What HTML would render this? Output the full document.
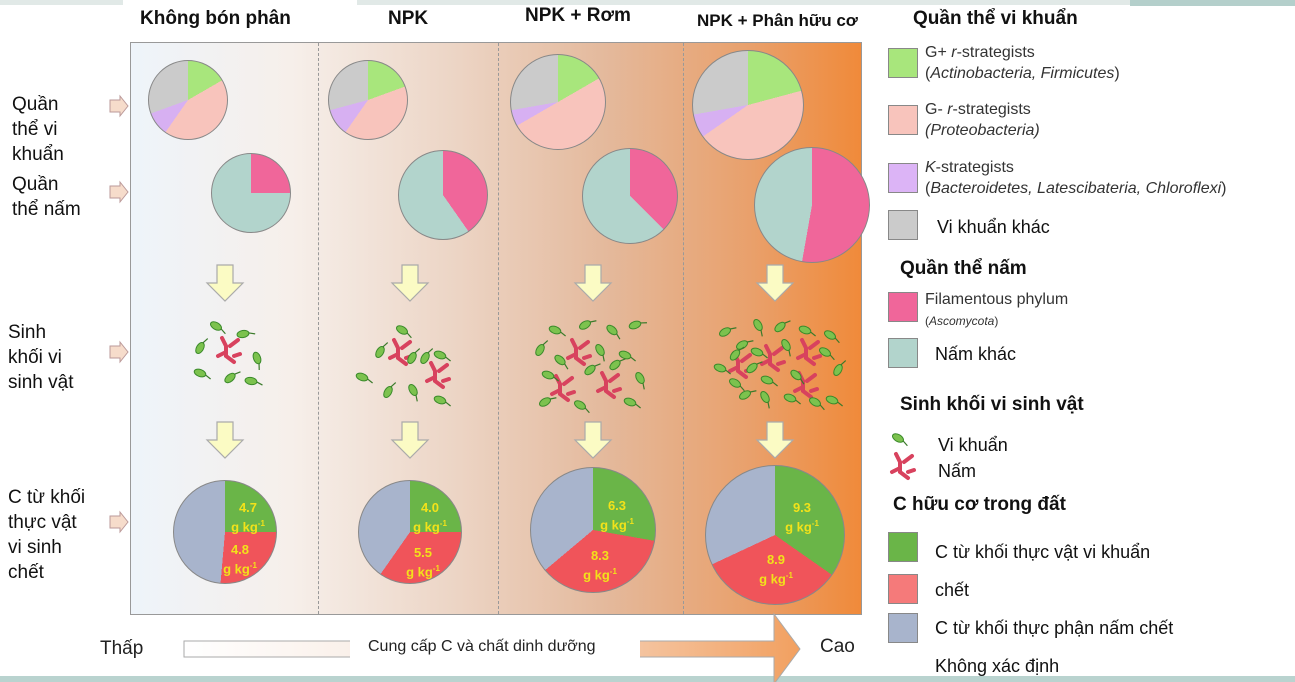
<!DOCTYPE html>
<html><head><meta charset="utf-8"><style>
body{margin:0;width:1295px;height:682px;position:relative;background:#fff;font-family:"Liberation Sans",sans-serif;overflow:hidden}
.a{position:absolute}
.pie{position:absolute;border-radius:50%;border:1px solid #888;box-sizing:border-box}
.t{position:absolute;font-size:19px;color:#111;line-height:25px}
.h{position:absolute;font-weight:bold;font-size:19px;color:#111}
.sw{position:absolute;width:30px;height:30px;border:1px solid #888;box-sizing:border-box;left:888px}
.lg{position:absolute;left:925px;font-size:16px;color:#333;line-height:21px}
.pl{position:absolute;color:#f2e21a;font-weight:bold;font-size:13px;text-align:center;line-height:16px}
</style></head><body>
<div class="a" style="left:0;top:0;width:1295px;height:5px;background:#e1e9e7"></div>
<div class="a" style="left:123px;top:0;width:234px;height:6px;background:#fff"></div>
<div class="a" style="left:1130px;top:0;width:165px;height:6px;background:#b4cfcb"></div>
<div class="a" style="left:0;top:676px;width:1295px;height:6px;background:#b9d3cf"></div>

<div class="a" style="left:130px;top:42px;width:732px;height:573px;border:1px solid #999;box-sizing:border-box;background:linear-gradient(90deg,#eef4fa 0%,#f6efea 22%,#ecd4c4 45%,#e4b99c 65%,#e9a06b 85%,#f08a3a 100%)"></div>
<div class="a" style="left:318px;top:43px;height:571px;border-left:1px dashed #999"></div>
<div class="a" style="left:498px;top:43px;height:571px;border-left:1px dashed #999"></div>
<div class="a" style="left:683px;top:43px;height:571px;border-left:1px dashed #999"></div>

<div class="h" style="left:140px;top:8px">Không bón phân</div>
<div class="h" style="left:388px;top:8px">NPK</div>
<div class="h" style="left:525px;top:5px">NPK + Rơm</div>
<div class="h" style="left:697px;top:11px;font-size:17px">NPK + Phân hữu cơ</div>

<div class="t" style="left:12px;top:92px">Quần<br>thể vi<br>khuẩn</div>
<div class="t" style="left:12px;top:172px">Quần<br>thể nấm</div>
<div class="t" style="left:8px;top:320px">Sinh<br>khối vi<br>sinh vật</div>
<div class="t" style="left:8px;top:485px">C từ khối<br>thực vật<br>vi sinh<br>chết</div>

<svg class="a" style="left:0;top:0" width="1295" height="682">
<defs>
<g id="la"><path d="M0,-6 h10 v-4 l8,10 l-8,10 v-4 h-10z" fill="#f6dccb" stroke="#b99" stroke-width="1"/></g>
<g id="da"><path d="M-8,0 h16 v18 h10 l-18,18 l-18,-18 h10z" fill="#fbfbc4" stroke="#aaa" stroke-width="1.2"/></g>
<g id="b"><ellipse cx="0" cy="0" rx="6" ry="3.5" fill="#7cc24e" stroke="#3a8a2a" stroke-width="1"/><path d="M6,0 l6,2" stroke="#3a7a2a" stroke-width="1.2"/></g>
<g id="f" fill="none" stroke="#d8425e" stroke-width="4" stroke-linecap="round"><path d="M-6,-12 l4,8 l0,10 l8,6 M-2,2 l-8,4 M2,-4 l8,-6 M6,6 l6,-2"/></g>
</defs>
<use href="#la" x="110" y="106"/><use href="#la" x="110" y="192"/><use href="#la" x="110" y="352"/><use href="#la" x="110" y="522"/>
<use href="#da" x="225" y="265"/><use href="#da" x="410" y="265"/><use href="#da" x="593" y="265"/><use href="#da" x="775" y="265"/>
<use href="#da" x="225" y="422"/><use href="#da" x="410" y="422"/><use href="#da" x="593" y="422"/><use href="#da" x="775" y="422"/>
<!-- col1 -->
<use href="#f" x="228" y="350"/>
<use href="#b" transform="translate(216,326) rotate(30)"/><use href="#b" transform="translate(243,334) rotate(-10)"/><use href="#b" transform="translate(200,348) rotate(-60)"/><use href="#b" transform="translate(257,358) rotate(70)"/><use href="#b" transform="translate(200,373) rotate(20)"/><use href="#b" transform="translate(230,378) rotate(-40)"/><use href="#b" transform="translate(251,381) rotate(10)"/>
<!-- col2 -->
<use href="#f" x="400" y="352"/><use href="#f" x="437" y="375"/>
<use href="#b" transform="translate(402,330) rotate(30)"/><use href="#b" transform="translate(380,352) rotate(-60)"/><use href="#b" transform="translate(440,355) rotate(20)"/><use href="#b" transform="translate(362,377) rotate(20)"/><use href="#b" transform="translate(388,392) rotate(-60)"/><use href="#b" transform="translate(413,390) rotate(60)"/><use href="#b" transform="translate(440,400) rotate(20)"/><use href="#b" transform="translate(425,358) rotate(-60)"/><use href="#b" transform="translate(412,358) rotate(-60)"/>
<!-- col3 -->
<use href="#f" x="578" y="352"/><use href="#f" x="608" y="385"/><use href="#f" x="562" y="388"/>
<use href="#b" transform="translate(555,330) rotate(20)"/><use href="#b" transform="translate(585,325) rotate(-30)"/><use href="#b" transform="translate(612,330) rotate(40)"/><use href="#b" transform="translate(635,325) rotate(-20)"/><use href="#b" transform="translate(540,350) rotate(-60)"/><use href="#b" transform="translate(600,350) rotate(60)"/><use href="#b" transform="translate(625,355) rotate(20)"/><use href="#b" transform="translate(548,375) rotate(20)"/><use href="#b" transform="translate(590,370) rotate(-40)"/><use href="#b" transform="translate(640,378) rotate(60)"/><use href="#b" transform="translate(545,402) rotate(-30)"/><use href="#b" transform="translate(580,405) rotate(30)"/><use href="#b" transform="translate(630,402) rotate(20)"/><use href="#b" transform="translate(560,360) rotate(40)"/><use href="#b" transform="translate(615,365) rotate(-40)"/>
<!-- col4 -->
<use href="#f" x="740" y="365"/><use href="#f" x="772" y="358"/><use href="#f" x="808" y="352"/><use href="#f" x="805" y="385"/>
<use href="#b" transform="translate(725,332) rotate(-30)"/><use href="#b" transform="translate(758,325) rotate(60)"/><use href="#b" transform="translate(780,327) rotate(-40)"/><use href="#b" transform="translate(805,330) rotate(20)"/><use href="#b" transform="translate(830,335) rotate(30)"/><use href="#b" transform="translate(742,345) rotate(-30)"/><use href="#b" transform="translate(757,352) rotate(20)"/><use href="#b" transform="translate(786,345) rotate(60)"/><use href="#b" transform="translate(825,352) rotate(30)"/><use href="#b" transform="translate(720,368) rotate(20)"/><use href="#b" transform="translate(752,368) rotate(-40)"/><use href="#b" transform="translate(838,370) rotate(-60)"/><use href="#b" transform="translate(735,383) rotate(30)"/><use href="#b" transform="translate(767,380) rotate(20)"/><use href="#b" transform="translate(796,375) rotate(40)"/><use href="#b" transform="translate(745,395) rotate(-30)"/><use href="#b" transform="translate(765,397) rotate(60)"/><use href="#b" transform="translate(790,398) rotate(20)"/><use href="#b" transform="translate(815,402) rotate(30)"/><use href="#b" transform="translate(832,400) rotate(20)"/><use href="#b" transform="translate(735,355) rotate(-50)"/>
<!-- legend microbes -->
<use href="#b" transform="translate(898,438) rotate(30)"/>
<use href="#f" x="902" y="466"/>
<!-- bottom arrow -->
<defs><linearGradient id="g" x1="0" x2="1"><stop offset="0" stop-color="#fff"/><stop offset="0.5" stop-color="#f6e4d8"/><stop offset="1" stop-color="#f2a060"/></linearGradient></defs>
<path d="M184,641 h590 v-27 l26,35 l-26,35 v-27 h-590z" fill="url(#g)" stroke="#aaa" stroke-width="1"/>
</svg>
<div class="a" style="left:350px;top:640px;width:290px;height:18px;background:#fff"></div>
<div class="a" style="left:368px;top:638px;font-size:16px;color:#222">Cung cấp C và chất dinh dưỡng</div>
<div class="a" style="left:100px;top:638px;font-size:19px;color:#222">Thấp</div>
<div class="a" style="left:820px;top:636px;font-size:19px;color:#222">Cao</div>

<!-- bacteria pies -->
<div class="pie" style="left:148px;top:60px;width:80px;height:80px;background:conic-gradient(#a8e67c 0 60deg,#f8c4bc 60deg 215deg,#d7b0f2 215deg 250deg,#cbcbcb 250deg)"></div>
<div class="pie" style="left:328px;top:60px;width:80px;height:80px;background:conic-gradient(#a8e67c 0 70deg,#f8c4bc 70deg 215deg,#d7b0f2 215deg 255deg,#cbcbcb 255deg)"></div>
<div class="pie" style="left:510px;top:54px;width:96px;height:96px;background:conic-gradient(#a8e67c 0 60deg,#f8c4bc 60deg 240deg,#d7b0f2 240deg 260deg,#cbcbcb 260deg)"></div>
<div class="pie" style="left:692px;top:50px;width:112px;height:110px;background:conic-gradient(#a8e67c 0 75deg,#f8c4bc 75deg 235deg,#d7b0f2 235deg 260deg,#cbcbcb 260deg)"></div>
<!-- fungi pies -->
<div class="pie" style="left:211px;top:153px;width:80px;height:80px;background:conic-gradient(#f0669a 0 90deg,#b2d4cc 90deg)"></div>
<div class="pie" style="left:398px;top:150px;width:90px;height:90px;background:conic-gradient(#f0669a 0 145deg,#b2d4cc 145deg)"></div>
<div class="pie" style="left:582px;top:148px;width:96px;height:96px;background:conic-gradient(#f0669a 0 135deg,#b2d4cc 135deg)"></div>
<div class="pie" style="left:754px;top:147px;width:116px;height:116px;background:conic-gradient(#f0669a 0 190deg,#b2d4cc 190deg)"></div>
<!-- C pies -->
<div class="pie" style="left:173px;top:480px;width:104px;height:104px;background:conic-gradient(#6ab548 0 90deg,#f0545a 90deg 185deg,#a8b4cc 185deg)"></div>
<div class="pie" style="left:358px;top:480px;width:104px;height:104px;background:conic-gradient(#6ab548 0 90deg,#f0545a 90deg 215deg,#a8b4cc 215deg)"></div>
<div class="pie" style="left:530px;top:467px;width:126px;height:126px;background:conic-gradient(#6ab548 0 100deg,#f0545a 100deg 230deg,#a8b4cc 230deg)"></div>
<div class="pie" style="left:705px;top:465px;width:140px;height:140px;background:conic-gradient(#6ab548 0 125deg,#f0545a 125deg 245deg,#a8b4cc 245deg)"></div>
<div class="pl" style="left:228px;top:500px;width:40px">4.7<br>g kg<sup style="font-size:8px">-1</sup></div>
<div class="pl" style="left:220px;top:542px;width:40px">4.8<br>g kg<sup style="font-size:8px">-1</sup></div>
<div class="pl" style="left:410px;top:500px;width:40px">4.0<br>g kg<sup style="font-size:8px">-1</sup></div>
<div class="pl" style="left:403px;top:545px;width:40px">5.5<br>g kg<sup style="font-size:8px">-1</sup></div>
<div class="pl" style="left:597px;top:498px;width:40px">6.3<br>g kg<sup style="font-size:8px">-1</sup></div>
<div class="pl" style="left:580px;top:548px;width:40px">8.3<br>g kg<sup style="font-size:8px">-1</sup></div>
<div class="pl" style="left:782px;top:500px;width:40px">9.3<br>g kg<sup style="font-size:8px">-1</sup></div>
<div class="pl" style="left:756px;top:552px;width:40px">8.9<br>g kg<sup style="font-size:8px">-1</sup></div>

<!-- legend -->
<div class="h" style="left:913px;top:8px">Quần thể vi khuẩn</div>
<div class="sw" style="top:48px;background:#a8e67c"></div>
<div class="lg" style="top:42px">G+ <i>r</i>-strategists<br>(<i>Actinobacteria, Firmicutes</i>)</div>
<div class="sw" style="top:105px;background:#f8c4bc"></div>
<div class="lg" style="top:99px">G- <i>r</i>-strategists<br><i>(Proteobacteria)</i></div>
<div class="sw" style="top:163px;background:#dcb4f6"></div>
<div class="lg" style="top:157px"><i>K</i>-strategists<br>(<i>Bacteroidetes, Latescibateria, Chloroflexi</i>)</div>
<div class="sw" style="top:210px;background:#cbcbcb"></div>
<div class="t" style="left:937px;top:215px;font-size:18px">Vi khuẩn khác</div>
<div class="h" style="left:900px;top:258px">Quần thể nấm</div>
<div class="sw" style="top:292px;background:#f0669a"></div>
<div class="lg" style="top:289px">Filamentous phylum<br><span style="font-size:12px">(<i>Ascomycota</i>)</span></div>
<div class="sw" style="top:338px;background:#b2d4cc"></div>
<div class="t" style="left:935px;top:342px;font-size:18px">Nấm khác</div>
<div class="h" style="left:900px;top:394px">Sinh khối vi sinh vật</div>
<div class="t" style="left:938px;top:433px;font-size:18px">Vi khuẩn</div>
<div class="t" style="left:938px;top:459px;font-size:18px">Nấm</div>
<div class="h" style="left:893px;top:494px">C hữu cơ trong đất</div>
<div class="sw" style="top:532px;background:#6ab548"></div>
<div class="t" style="left:935px;top:540px;font-size:18px">C từ khối thực vật vi khuẩn</div>
<div class="sw" style="top:574px;background:#f57a7a"></div>
<div class="t" style="left:935px;top:578px;font-size:18px">chết</div>
<div class="sw" style="top:613px;background:#a8b4cc"></div>
<div class="t" style="left:935px;top:616px;font-size:18px">C từ khối thực phận nấm chết</div>
<div class="t" style="left:935px;top:654px;font-size:18px">Không xác định</div>
</body></html>
